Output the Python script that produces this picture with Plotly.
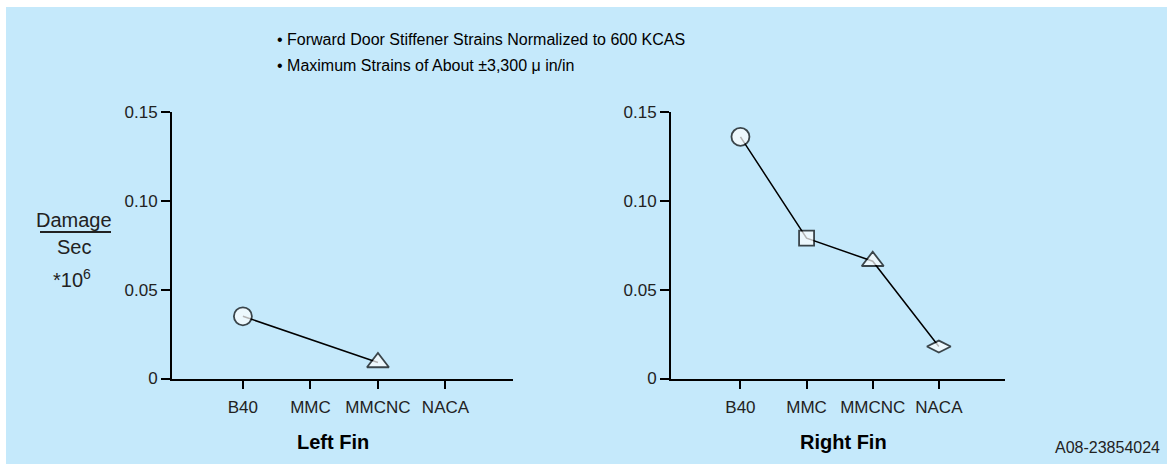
import plotly.graph_objects as go

# ---- data ----
categories = ["B40", "MMC", "MMCNC", "NACA"]
left_fin = [0.035, None, 0.009, None]
right_fin = [0.136, 0.079, 0.066, 0.018]
symbols = ["circle", "square", "triangle-up", "diamond-wide"]
y_tickvals = [0, 0.05, 0.10, 0.15]
y_ticktext = ["0", "0.05", "0.10", "0.15"]
title_lines = ["• Forward Door Stiffener Strains Normalized to 600 KCAS",
               "• Maximum Strains of About ±3,300 μ in/in"]
panel_titles = ["Left Fin", "Right Fin"]
code_label = "A08-23854024"

W, H = 1167, 464
FONT = "Liberation Sans, Arial, Helvetica, sans-serif"
BG = "#C5E9FB"


def px(x):
    return x / W


def py(y):
    return 1 - y / H


fig = go.Figure()

marker_sizes = [18, 15, 19, 17]
for i, vals in enumerate([left_fin, right_fin]):
    xs = [c for c, v in zip(categories, vals) if v is not None]
    ys = [v for v in vals if v is not None]
    sy = [s for s, v in zip(symbols, vals) if v is not None]
    sz = [z for z, v in zip(marker_sizes, vals) if v is not None]
    fig.add_trace(go.Scatter(
        x=xs, y=ys, mode="lines+markers",
        xaxis="x" if i == 0 else "x2", yaxis="y" if i == 0 else "y2",
        line=dict(color="black", width=1.5),
        marker=dict(symbol=sy, size=sz, color="white",
                    line=dict(color="black", width=1.8)),
        cliponaxis=False, showlegend=False, hoverinfo="skip"))

axis_common_x = dict(
    type="category", categoryorder="array", categoryarray=categories,
    range=[-1.05, 4.0], showline=True, linecolor="black", linewidth=2,
    ticks="outside", ticklen=8, tickwidth=2, tickcolor="black",
    showgrid=False, zeroline=False, automargin=False, ticklabelstandoff=4,
    tickfont=dict(family=FONT, size=17, color="#222222"))
axis_common_y = dict(
    range=[0, 0.15], tickvals=y_tickvals, ticktext=y_ticktext,
    showline=True, linecolor="black", linewidth=2,
    ticks="outside", ticklen=9, tickwidth=2, tickcolor="black",
    showgrid=False, zeroline=False, automargin=False,
    tickfont=dict(family=FONT, size=17, color="#222222"))

ytop, ybot = 112, 378.5
fig.update_layout(
    width=W, height=H,
    margin=dict(l=0, r=0, t=0, b=0, autoexpand=False),
    paper_bgcolor="white", plot_bgcolor="white",
    xaxis=dict(domain=[px(172), px(513)], anchor="y", **axis_common_x),
    yaxis=dict(domain=[py(ybot), py(ytop)], anchor="x", **axis_common_y),
    xaxis2=dict(domain=[px(671), px(1005)], anchor="y2", **axis_common_x),
    yaxis2=dict(domain=[py(ybot), py(ytop)], anchor="x2", **axis_common_y),
    shapes=[
        dict(type="rect", xref="paper", yref="paper",
             x0=px(6), x1=1, y0=0, y1=py(7),
             fillcolor=BG, line=dict(width=0), layer="below"),
        # fraction bar of the y-axis label
        dict(type="line", xref="paper", yref="paper",
             x0=px(40), x1=px(111), y0=py(232), y1=py(232),
             line=dict(color="#222222", width=2)),
    ],
)

ann = []
for t, y in zip(title_lines, [39, 65]):
    ann.append(dict(text=t, x=px(275), y=py(y), xref="paper", yref="paper",
                    xanchor="left", yanchor="middle", showarrow=False,
                    font=dict(family=FONT, size=16, color="black")))
for t, x in zip(panel_titles, [333, 843]):
    ann.append(dict(text="<b>" + t + "</b>", x=px(x), y=py(442), xref="paper", yref="paper",
                    xanchor="center", yanchor="middle", showarrow=False,
                    font=dict(family=FONT, size=20, color="black")))
ann.append(dict(text=code_label, x=px(1162), y=py(447), xref="paper", yref="paper",
                xanchor="right", yanchor="middle", showarrow=False,
                font=dict(family=FONT, size=16, color="#222222")))
ann.append(dict(text="Damage", x=px(74), y=py(220), xref="paper", yref="paper",
                xanchor="center", yanchor="middle", showarrow=False,
                font=dict(family=FONT, size=20, color="#222222")))
ann.append(dict(text="Sec", x=px(74), y=py(247), xref="paper", yref="paper",
                xanchor="center", yanchor="middle", showarrow=False,
                font=dict(family=FONT, size=20, color="#222222")))
ann.append(dict(text="*10<sup>6</sup>", x=px(72), y=py(278), xref="paper", yref="paper",
                xanchor="center", yanchor="middle", showarrow=False,
                font=dict(family=FONT, size=20, color="#222222")))
fig.update_layout(annotations=ann)

fig.write_html("out.html")
